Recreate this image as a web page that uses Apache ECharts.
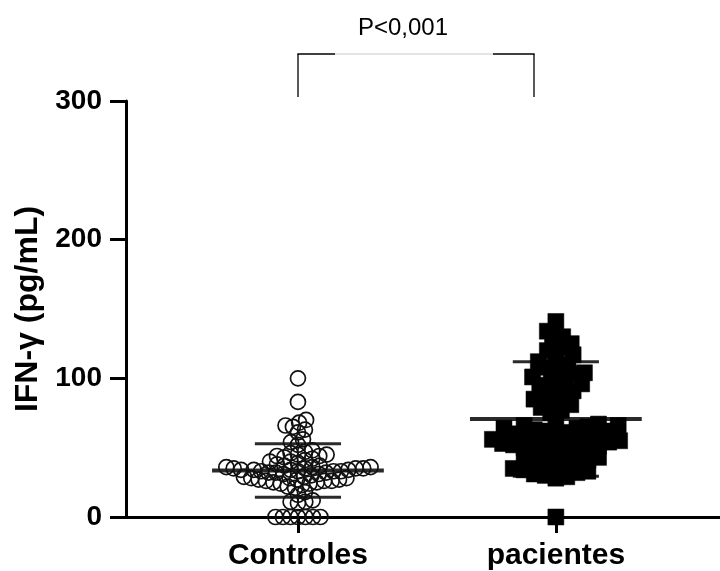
<!DOCTYPE html>
<html>
<head>
<meta charset="utf-8">
<script src="https://cdn.jsdelivr.net/npm/echarts@6/dist/echarts.min.js"></script>
<style>
html,body{margin:0;padding:0;background:#fff;}
#c{width:720px;height:571px;}
</style>
</head>
<body>
<div id="c"></div>
<script>
// ---- data ----
const categories = ['Controles', 'pacientes'];
const controles = [
  100, 83,
  70, 68, 66, 65, 63, 61,
  56, 54, 52,
  48, 47, 46, 45, 45, 44, 44, 43, 42, 41, 40, 40, 39,
  38, 37, 37, 36, 36, 36, 35, 35, 35, 35, 34, 34, 34, 34, 33, 33, 33, 33, 32, 32, 32, 31, 31, 30,
  29, 29, 28, 28, 28, 27, 27, 27, 26, 26, 26, 25, 25, 24, 24, 23, 22, 21,
  18, 16,
  12, 11, 11, 10,
  0, 0, 0, 0, 0, 0, 0
];
const pacientes = [
  141, 134, 130, 127, 125, 122, 120, 117, 115, 112,
  110, 108, 106, 104, 103, 101, 100, 98, 96, 95,
  93, 91, 89, 87, 85, 83, 81, 79, 77, 75,
  68, 67, 66, 66, 65, 64, 64, 63, 62, 62, 61, 60, 60, 59, 58,
  57, 56, 56, 55, 55, 54, 54, 53, 53, 52, 52, 51, 50, 49, 48, 47, 46,
  45, 44, 43, 42, 41, 40, 39, 38, 37, 36, 35, 34, 33, 32, 31, 30, 29, 28,
  0
];
const means = [33.5, 70.7];
const sds = [19.3, 41.3];
const pText = 'P<0,001';

// ---- chart ----
const chart = echarts.init(document.getElementById('c'), null, {renderer: 'canvas'});
const FONT = 'Liberation Sans, Arial, sans-serif';
const catPos = categories.map((c, i) => i + 1);

const base = {
  animation: false,
  backgroundColor: '#fff',
  grid: {left: 126, top: 101, right: 0, bottom: 54, containLabel: false},
  xAxis: {
    type: 'value', min: 0.3333, max: 2.6364,
    splitLine: {show: false},
    axisLine: {show: true, onZero: false, lineStyle: {color: '#000', width: 3}},
    axisTick: {show: true, customValues: catPos, length: 16, lineStyle: {color: '#000', width: 3}},
    axisLabel: {
      show: true, customValues: catPos, margin: 24,
      formatter: v => categories[Math.round(v) - 1] || '',
      fontSize: 30, fontWeight: 'bold', color: '#000', fontFamily: FONT
    }
  },
  yAxis: {
    type: 'value', min: 0, max: 300, interval: 100,
    name: 'IFN-\u03b3 (pg/mL)', nameLocation: 'middle', nameGap: 80, nameRotate: 90,
    nameTextStyle: {fontSize: 32, fontWeight: 'bold', color: '#000', fontFamily: FONT},
    splitLine: {show: false},
    axisLine: {show: true, lineStyle: {color: '#000', width: 3}},
    axisTick: {show: true, length: 16, lineStyle: {color: '#000', width: 3}},
    axisLabel: {margin: 24, fontSize: 28, fontWeight: 'bold', color: '#000', fontFamily: FONT}
  },
  series: []
};
chart.setOption(base);

// beeswarm layout in pixel space, through the axes' scales
function swarm(values, xCenter, D) {
  const pts = values.map(v => chart.convertToPixel({gridIndex: 0}, [xCenter, v]));
  const cx = pts.length ? pts[0][0] : 0;
  const order = values.map((v, i) => i).sort((a, b) => values[a] - values[b]);
  const placed = [];
  const dxs = new Array(values.length).fill(0);
  order.forEach((i, k) => {
    const y = pts[i][1];
    const cands = [0];
    placed.forEach(p => {
      const dy = Math.abs(y - p.y);
      if (dy < D) {
        const w = Math.sqrt(D * D - dy * dy);
        if (k % 2) { cands.push(p.x - w, p.x + w); } else { cands.push(p.x + w, p.x - w); }
      }
    });
    cands.sort((a, b) => Math.abs(a) - Math.abs(b));
    let chosen = 0;
    for (const c of cands) {
      let ok = true;
      for (const p of placed) {
        const dx = c - p.x, dy = y - p.y;
        if (dx * dx + dy * dy < D * D - 0.01) { ok = false; break; }
      }
      if (ok) { chosen = c; break; }
    }
    placed.push({x: chosen, y: y});
    dxs[i] = chosen;
  });
  return values.map((v, i) => [chart.convertFromPixel({gridIndex: 0}, [cx + dxs[i], pts[i][1]])[0], v]);
}

const ctrlData = swarm(controles, 1, 7.5);
const pacData = swarm(pacientes, 2, 11);

const lineData = [];
means.forEach((m, i) => {
  lineData.push([i + 1, m, 0.333, 4]);
  lineData.push([i + 1, m + sds[i], 0.167, 3]);
  lineData.push([i + 1, m - sds[i], 0.167, 3]);
});

chart.setOption({
  series: [
    {
      type: 'custom', z: 1, silent: true,
      data: lineData,
      renderItem: (params, api) => {
        const x = api.value(0), y = api.value(1), hw = api.value(2), lw = api.value(3);
        const p1 = api.coord([x - hw, y]);
        const p2 = api.coord([x + hw, y]);
        return {type: 'line', shape: {x1: p1[0], y1: p1[1], x2: p2[0], y2: p2[1]},
          style: {stroke: '#2a2a2a', lineWidth: lw}};
      }
    },
    {
      name: categories[0], type: 'scatter', z: 3, symbol: 'circle', symbolSize: 15,
      data: ctrlData,
      itemStyle: {color: 'rgba(255,255,255,0)', borderColor: '#111', borderWidth: 1.7, opacity: 1}
    },
    {
      name: categories[1], type: 'scatter', z: 3, symbol: 'rect', symbolSize: 16,
      data: pacData,
      itemStyle: {color: '#000', borderColor: '#000', borderWidth: 0.5, opacity: 1}
    }
  ],
  graphic: [
    {type: 'line', shape: {x1: 298, y1: 54, x2: 298, y2: 97}, style: {stroke: '#000', lineWidth: 1.3}},
    {type: 'line', shape: {x1: 534, y1: 54, x2: 534, y2: 97}, style: {stroke: '#000', lineWidth: 1.3}},
    {type: 'line', shape: {x1: 297.4, y1: 54, x2: 335, y2: 54}, style: {stroke: '#000', lineWidth: 1.3}},
    {type: 'line', shape: {x1: 493, y1: 54, x2: 534.6, y2: 54}, style: {stroke: '#000', lineWidth: 1.3}},
    {type: 'line', shape: {x1: 335, y1: 54, x2: 493, y2: 54}, style: {stroke: '#c8c8c8', lineWidth: 1}},
    {type: 'text', x: 403, y: 28, style: {text: pText, fontSize: 24, fontFamily: FONT, fill: '#000',
      textAlign: 'center', textVerticalAlign: 'middle'}}
  ]
});
</script>
</body>
</html>
